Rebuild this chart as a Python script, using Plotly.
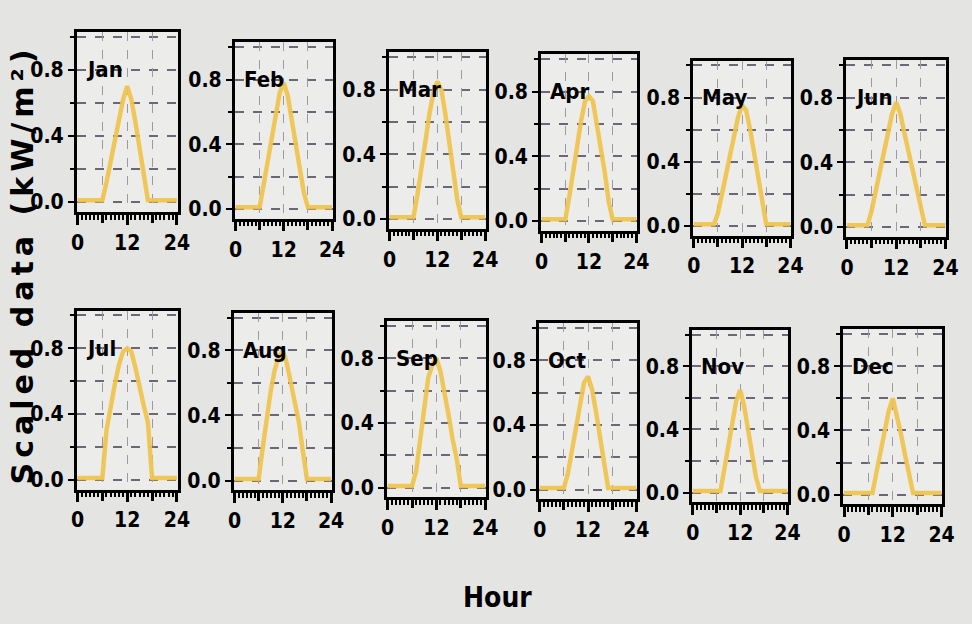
import plotly.graph_objects as go

# ---------------- data ----------------
months = ["Jan", "Feb", "Mar", "Apr", "May", "Jun",
          "Jul", "Aug", "Sep", "Oct", "Nov", "Dec"]
hours = list(range(0, 25))

jan = [0.01]*7 + [0.12, 0.25, 0.38, 0.50, 0.62, 0.70, 0.62, 0.48, 0.32, 0.15, 0.01] + [0.01]*7
feb = [0.01]*7 + [0.15, 0.30, 0.45, 0.60, 0.72, 0.78, 0.70, 0.55, 0.40, 0.25, 0.10, 0.01] + [0.01]*6
mar = [0.01]*7 + [0.15, 0.30, 0.48, 0.65, 0.78, 0.85, 0.80, 0.65, 0.48, 0.30, 0.12, 0.01] + [0.01]*6
apr = [0.01]*7 + [0.15, 0.32, 0.48, 0.62, 0.74, 0.77, 0.74, 0.60, 0.45, 0.30, 0.12, 0.01] + [0.01]*6
may = [0.01]*6 + [0.08, 0.20, 0.33, 0.46, 0.58, 0.68, 0.75, 0.72, 0.60, 0.45, 0.30, 0.14, 0.01] + [0.01]*6
jun = [0.01]*6 + [0.10, 0.22, 0.35, 0.48, 0.60, 0.70, 0.77, 0.70, 0.58, 0.46, 0.34, 0.22, 0.10, 0.01] + [0.01]*5
jul = [0.01]*7 + [0.30, 0.45, 0.58, 0.70, 0.78, 0.80, 0.78, 0.68, 0.55, 0.45, 0.35, 0.01] + [0.01]*6
aug = [0.01]*7 + [0.20, 0.38, 0.55, 0.68, 0.76, 0.80, 0.72, 0.60, 0.48, 0.36, 0.18, 0.01] + [0.01]*6
sep = [0.01]*7 + [0.10, 0.30, 0.50, 0.68, 0.76, 0.80, 0.72, 0.60, 0.45, 0.30, 0.18, 0.01] + [0.01]*6
oct_ = [0.01]*7 + [0.10, 0.25, 0.40, 0.55, 0.66, 0.70, 0.62, 0.48, 0.32, 0.16, 0.01] + [0.01]*7
nov = [0.01]*8 + [0.15, 0.30, 0.45, 0.58, 0.65, 0.55, 0.40, 0.25, 0.10, 0.01] + [0.01]*7
dec = [0.01]*8 + [0.14, 0.28, 0.40, 0.52, 0.60, 0.50, 0.38, 0.25, 0.12, 0.01] + [0.01]*7
series = [jan, feb, mar, apr, may, jun, jul, aug, sep, oct_, nov, dec]

x_ticks = [0, 12, 24]
x_ticktext = ["0", "12", "24"]
x_midticks = [6, 18]
x_minor = list(range(1, 24))
y_ticks = [0.0, 0.4, 0.8]
y_ticktext = ["0.0", "0.4", "0.8"]
y_minor = [0.2, 0.6, 1.0]

# ---------------- layout geometry (pixels: left, right, y of 0.0, y of 0.8) ----------------
W, H = 972, 624
panels_px = [
    (72, 175, 203, 70), (233, 333, 210, 80), (390, 489, 220, 90),
    (545, 643, 222, 92), (700, 800, 227, 98), (856, 958, 228, 98),
    (72, 175, 482, 350), (232, 332, 483, 352), (388, 489, 490, 360),
    (543, 643, 492, 362), (699, 797, 495, 368), (853, 954, 497, 368),
]
YMIN, YMAX = -0.06, 1.03
XMIN, XMAX = -0.2, 24.2

NARROW = "Liberation Sans Narrow, DejaVu Sans Condensed, Arial Narrow, sans-serif"
LINE_COLOR = "#efc44c"
XGRID = "#9d9aa4"
YGRID = "#6c6878"

fig = go.Figure()
layout = {}
annotations = []
n = len(months)
for i, (m, vals) in enumerate(zip(months, series)):
    k = "" if i == 0 else str(i + 1)
    k2 = str(i + 1 + n)
    left, right, y0, y8 = panels_px[i]
    s = (y0 - y8) / 0.8
    top = y0 - YMAX * s
    bot = y0 - YMIN * s
    # invisible carrier trace so the overlay axis (6 h / 18 h ticks + grid) is drawn
    fig.add_trace(go.Scatter(
        x=hours, y=vals, mode="lines", line=dict(width=0, color="rgba(0,0,0,0)"),
        xaxis="x" + k2, yaxis="y" + k, showlegend=False, hoverinfo="skip"))
    fig.add_trace(go.Scatter(
        x=hours, y=vals, mode="lines",
        line=dict(color=LINE_COLOR, width=4.5),
        opacity=0.92,
        xaxis="x" + k, yaxis="y" + k, showlegend=False, hoverinfo="skip"))
    layout["xaxis" + k] = dict(
        domain=[left / W, right / W], anchor="y" + k,
        range=[XMIN, XMAX], tickmode="array", tickvals=x_ticks, ticktext=x_ticktext,
        ticks="outside", ticklen=10, tickwidth=2.5, tickcolor="black",
        showline=True, linecolor="black", linewidth=2.5, mirror=True,
        showgrid=True, gridcolor=XGRID, gridwidth=1, griddash="dash",
        zeroline=False,
        minor=dict(tickvals=x_minor, ticks="outside", ticklen=5, tickwidth=1.5,
                   tickcolor="black", showgrid=False),
        tickfont=dict(family=NARROW, size=21, color="black", weight="bold"),
    )
    layout["xaxis" + k2] = dict(
        domain=[left / W, right / W], anchor="y" + k, overlaying="x" + k, side="bottom",
        range=[XMIN, XMAX], tickmode="array", tickvals=x_midticks,
        showticklabels=False,
        ticks="outside", ticklen=10, tickwidth=2.5, tickcolor="black",
        showline=False, showgrid=True, gridcolor=XGRID, gridwidth=1, griddash="dash",
        zeroline=False,
    )
    layout["yaxis" + k] = dict(
        domain=[1 - bot / H, 1 - top / H], anchor="x" + k,
        range=[YMIN, YMAX], tickmode="array", tickvals=y_ticks, ticktext=y_ticktext,
        ticks="outside", ticklen=6, tickwidth=2, tickcolor="black",
        showline=True, linecolor="black", linewidth=2.5, mirror=True,
        showgrid=True, gridcolor=YGRID, gridwidth=1.5, griddash="dash",
        zeroline=False,
        minor=dict(tickvals=y_minor, ticks="outside", ticklen=4, tickwidth=2,
                   tickcolor="black", showgrid=True, gridcolor=YGRID,
                   gridwidth=1.5, griddash="dash"),
        tickfont=dict(family=NARROW, size=21, color="black", weight="bold"),
    )
    annotations.append(dict(
        text=m, xref="x" + k + " domain", yref="y" + k,
        x=0.07, y=0.8, xanchor="left", yanchor="middle", showarrow=False,
        font=dict(family=NARROW, size=22, color="black", weight="bold"),
    ))

annotations.append(dict(
    text="Hour", xref="paper", yref="paper", x=501 / W, y=1 - 600 / H,
    xanchor="center", yanchor="middle", showarrow=False,
    font=dict(family=NARROW, size=28, color="black", weight="bold"),
))
annotations.append(dict(
    text='<span style="letter-spacing:5px">Scaled data (kW/m²)</span>',
    xref="paper", yref="paper",
    x=17 / W, y=1 - 266 / H, textangle=-90,
    xanchor="center", yanchor="middle", showarrow=False,
    font=dict(family="DejaVu Sans, Arial, sans-serif", size=30, color="black", weight="bold"),
))

fig.update_layout(
    width=W, height=H, margin=dict(l=0, r=0, t=0, b=0),
    paper_bgcolor="#e4e4e2", plot_bgcolor="#ececeb",
    annotations=annotations, **layout,
)

fig.write_html("out.html")
